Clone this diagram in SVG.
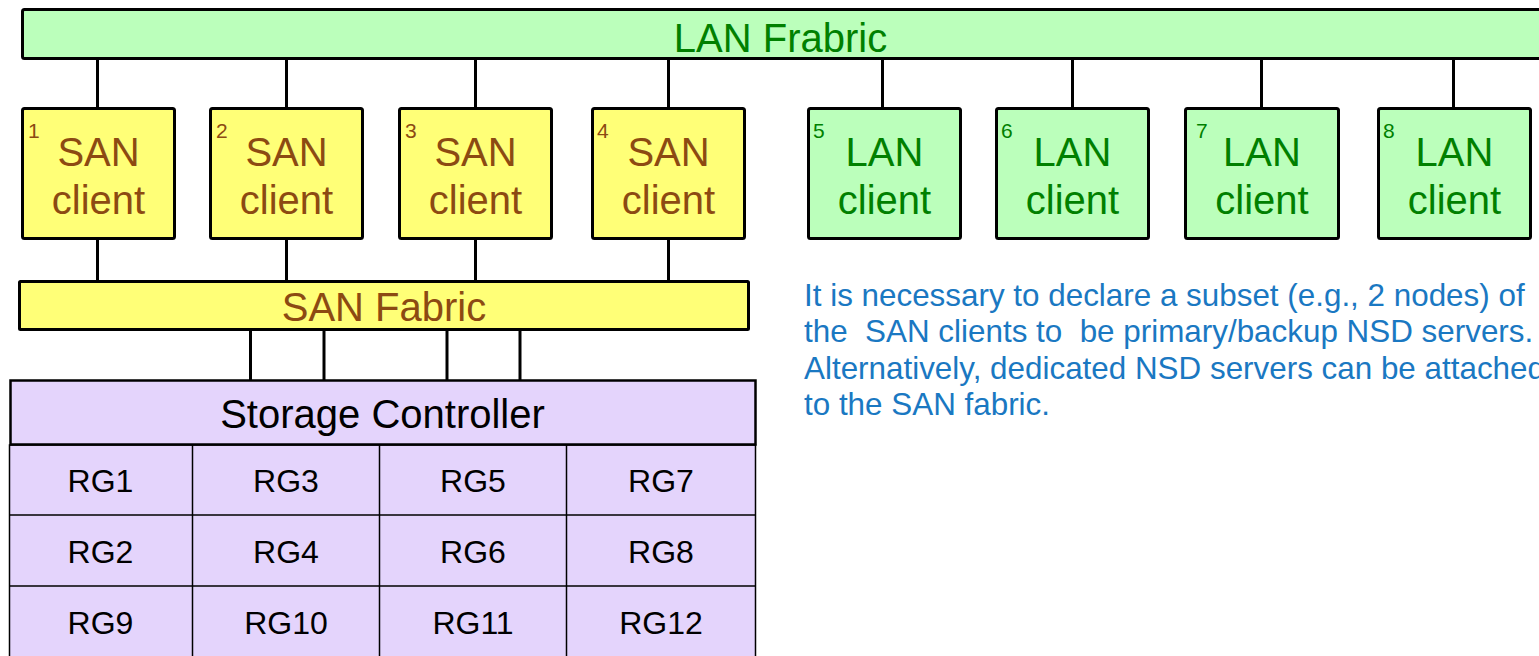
<svg xmlns="http://www.w3.org/2000/svg" width="1539" height="656" viewBox="0 0 1539 656">
<style>
text{font-family:"Liberation Sans",Arial,sans-serif}
.box{stroke:#000;stroke-width:3}
.san{fill:#ffff77}
.lan{fill:#bbffbb}
.sc{fill:#e4d4fc}
.st{fill:#8c4a12;font-size:40px;text-anchor:middle}
.lt{fill:#008000;font-size:40px;text-anchor:middle}
.sn{fill:#8c4a12;font-size:21px}
.ln{fill:#008000;font-size:21px}
.rg{fill:#000;font-size:32px;text-anchor:middle}
.note{fill:#1a78c2;font-size:31.4px}
.conn line{stroke:#000;stroke-width:3}
.grid line{stroke:#000;stroke-width:1.5}
</style>
<g id="connectors" class="conn">
<line x1="97.5" y1="60" x2="97.5" y2="108"/>
<line x1="286.5" y1="60" x2="286.5" y2="108"/>
<line x1="475.5" y1="60" x2="475.5" y2="108"/>
<line x1="668.5" y1="60" x2="668.5" y2="108"/>
<line x1="882.5" y1="60" x2="882.5" y2="108"/>
<line x1="1072.5" y1="60" x2="1072.5" y2="108"/>
<line x1="1261.5" y1="60" x2="1261.5" y2="108"/>
<line x1="1453.5" y1="60" x2="1453.5" y2="108"/>
<line x1="97.5" y1="239" x2="97.5" y2="281"/>
<line x1="286.5" y1="239" x2="286.5" y2="281"/>
<line x1="475.5" y1="239" x2="475.5" y2="281"/>
<line x1="668.5" y1="239" x2="668.5" y2="281"/>
<line x1="250.5" y1="331" x2="250.5" y2="380"/>
<line x1="324" y1="331" x2="324" y2="380"/>
<line x1="447" y1="331" x2="447" y2="380"/>
<line x1="520" y1="331" x2="520" y2="380"/>
</g>
<g id="lan-fabric">
<rect class="box lan" x="22.5" y="9.5" width="1530" height="49" rx="2"/>
<text class="lt" x="780.5" y="52">LAN Frabric</text>
</g>
<g id="san-client-1">
<rect class="box san" x="22.5" y="108.5" width="152" height="130" rx="2"/>
<text class="sn" x="28" y="138">1</text>
<text class="st" x="98.5" y="166">SAN</text>
<text class="st" x="98.5" y="214">client</text>
</g>
<g id="san-client-2">
<rect class="box san" x="210.5" y="108.5" width="152" height="130" rx="2"/>
<text class="sn" x="216" y="138">2</text>
<text class="st" x="286.5" y="166">SAN</text>
<text class="st" x="286.5" y="214">client</text>
</g>
<g id="san-client-3">
<rect class="box san" x="399.5" y="108.5" width="152" height="130" rx="2"/>
<text class="sn" x="405" y="138">3</text>
<text class="st" x="475.5" y="166">SAN</text>
<text class="st" x="475.5" y="214">client</text>
</g>
<g id="san-client-4">
<rect class="box san" x="592.5" y="108.5" width="152" height="130" rx="2"/>
<text class="sn" x="597" y="138">4</text>
<text class="st" x="668.5" y="166">SAN</text>
<text class="st" x="668.5" y="214">client</text>
</g>
<g id="lan-client-5">
<rect class="box lan" x="808.5" y="108.5" width="152" height="130" rx="2"/>
<text class="ln" x="813" y="138">5</text>
<text class="lt" x="884.5" y="166">LAN</text>
<text class="lt" x="884.5" y="214">client</text>
</g>
<g id="lan-client-6">
<rect class="box lan" x="996.5" y="108.5" width="152" height="130" rx="2"/>
<text class="ln" x="1001" y="138">6</text>
<text class="lt" x="1072.5" y="166">LAN</text>
<text class="lt" x="1072.5" y="214">client</text>
</g>
<g id="lan-client-7">
<rect class="box lan" x="1185.5" y="108.5" width="153" height="130" rx="2"/>
<text class="ln" x="1196" y="138">7</text>
<text class="lt" x="1262" y="166">LAN</text>
<text class="lt" x="1262" y="214">client</text>
</g>
<g id="lan-client-8">
<rect class="box lan" x="1378.5" y="108.5" width="152" height="130" rx="2"/>
<text class="ln" x="1383" y="138">8</text>
<text class="lt" x="1454.5" y="166">LAN</text>
<text class="lt" x="1454.5" y="214">client</text>
</g>
<g id="san-fabric">
<rect class="box san" x="19.5" y="281.5" width="729" height="48" rx="1"/>
<text class="st" x="384" y="321">SAN Fabric</text>
</g>
<g id="storage-controller">
<rect class="sc" x="9.5" y="445" width="746" height="215" stroke="#000" stroke-width="1.5"/>
<rect class="sc" x="10.5" y="380.5" width="745" height="64" stroke="#000" stroke-width="2.5"/>
<text x="382.5" y="428" style="font-size:40px;text-anchor:middle;fill:#000">Storage Controller</text>
<g class="grid">
<line x1="9.5" y1="515" x2="755.5" y2="515"/>
<line x1="9.5" y1="586" x2="755.5" y2="586"/>
<line x1="192.5" y1="445" x2="192.5" y2="656"/>
<line x1="379.5" y1="445" x2="379.5" y2="656"/>
<line x1="566.5" y1="445" x2="566.5" y2="656"/>
</g>
<text class="rg" x="100.5" y="492">RG1</text>
<text class="rg" x="286" y="492">RG3</text>
<text class="rg" x="473" y="492">RG5</text>
<text class="rg" x="661" y="492">RG7</text>
<text class="rg" x="100.5" y="563">RG2</text>
<text class="rg" x="286" y="563">RG4</text>
<text class="rg" x="473" y="563">RG6</text>
<text class="rg" x="661" y="563">RG8</text>
<text class="rg" x="100.5" y="634">RG9</text>
<text class="rg" x="286" y="634">RG10</text>
<text class="rg" x="473" y="634">RG11</text>
<text class="rg" x="661" y="634">RG12</text>
</g>
<g id="note">
<text class="note" x="804" y="306">It is necessary to declare a subset (e.g., 2 nodes) of</text>
<text class="note" x="804" y="342" xml:space="preserve">the  SAN clients to  be primary/backup NSD servers.</text>
<text class="note" x="804" y="379">Alternatively, dedicated NSD servers can be attached</text>
<text class="note" x="804" y="415">to the SAN fabric.</text>
</g>
</svg>
